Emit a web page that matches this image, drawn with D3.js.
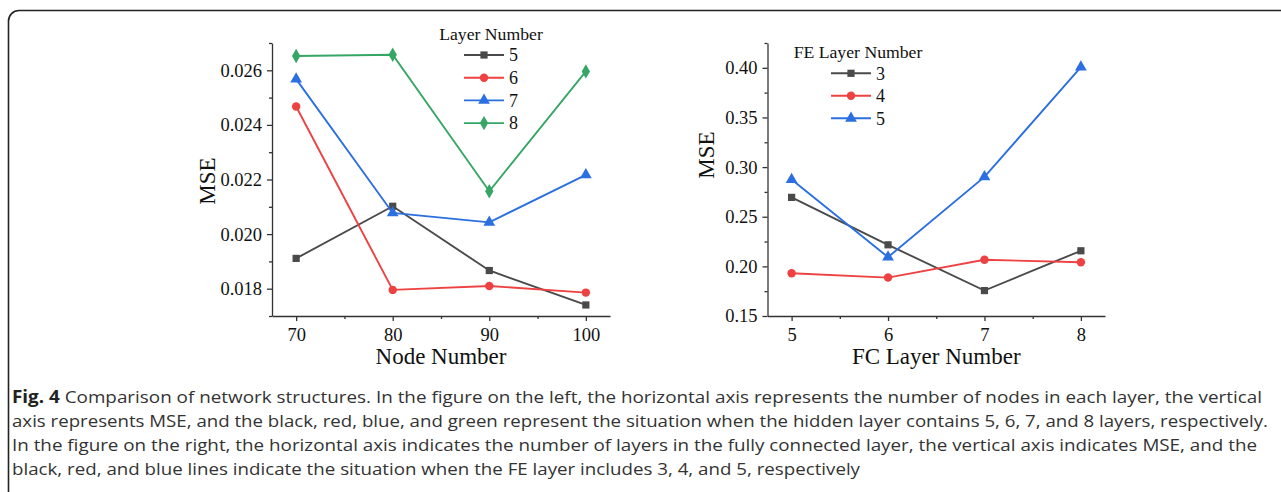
<!DOCTYPE html>
<html>
<head>
<meta charset="utf-8">
<script src="https://cdn.jsdelivr.net/npm/d3@7"></script>
<style>
  html, body { margin: 0; padding: 0; background: #fff; }
  svg text { font-family: "Liberation Serif", "Times New Roman", serif; }
  svg text.cap { font-family: "Open Sans", "Noto Sans", sans-serif; fill: #333; }
</style>
</head>
<body>
<svg id="fig" width="1281" height="492"></svg>
<script>
// left chart: MSE vs node number
const nodeNumbers = [70, 80, 90, 100]
const layerNames = ['5', '6', '7', '8']
const layer5 = [0.01911, 0.02102, 0.018666, 0.017404]
const layer6 = [0.024673, 0.017956, 0.01810, 0.017857]
const layer7 = [0.025676, 0.020775, 0.02043, 0.022172]
const layer8 = [0.026522, 0.02657, 0.02157, 0.02596]
const leftYTicks = [0.018, 0.020, 0.022, 0.024, 0.026]

// right chart: MSE vs FC layer number
const fcLayers = [5, 6, 7, 8]
const feNames = ['3', '4', '5']
const fe3 = [0.2695, 0.2217, 0.1756, 0.2157]
const fe4 = [0.1931, 0.1887, 0.2066, 0.2042]
const fe5 = [0.2874, 0.2093, 0.2901, 0.4008]
const rightYTicks = [0.15, 0.20, 0.25, 0.30, 0.35, 0.40]

const captionLines = [
    ['Fig. 4', ' Comparison of network structures. In the figure on the left, the horizontal axis represents the number of nodes in each layer, the vertical'],
    ['', 'axis represents MSE, and the black, red, blue, and green represent the situation when the hidden layer contains 5, 6, 7, and 8 layers, respectively.'],
    ['', 'In the figure on the right, the horizontal axis indicates the number of layers in the fully connected layer, the vertical axis indicates MSE, and the'],
    ['', 'black, red, and blue lines indicate the situation when the FE layer includes 3, 4, and 5, respectively']
]

const colors = ['#4a4a4a', '#ee4242', '#2b6fe0', '#35a665']
const symbols = [d3.symbolSquare, d3.symbolCircle, d3.symbolTriangle, d3.symbolDiamond]
const symSizes = [52, 56, 60, 60]

const svg = d3.select('#fig')

// outer frame
svg.append('path')
    .attr('d', 'M8.5,492 V21 A10.5,10.5 0 0 1 19,10.5 H1281')
    .attr('fill', 'none')
    .attr('stroke', '#222')
    .attr('stroke-width', 1.6)

const drawChart = opt => {
    const g = svg.append('g')
    const x = d3.scaleLinear().domain(opt.xDomain).range([opt.left, opt.right])
    const y = d3.scaleLinear().domain(opt.yDomain).range([opt.bottom, opt.top])

    const xAxis = d3.axisBottom(x).tickValues(opt.xTicks).tickSize(5).tickSizeOuter(0).tickPadding(7)
        .tickFormat(d3.format('d'))
    const yAxis = d3.axisLeft(y).tickValues(opt.yTicks).tickSize(5).tickSizeOuter(0).tickPadding(5)
        .tickFormat(opt.yFormat)

    g.append('g').attr('transform', `translate(0,${opt.bottom})`).call(xAxis)
    g.append('g').attr('transform', `translate(${opt.left},0)`).call(yAxis)

    // minor ticks
    g.append('g').attr('transform', `translate(0,${opt.bottom})`)
        .call(d3.axisBottom(x).tickValues(opt.xMinor).tickSize(3).tickFormat('').tickSizeOuter(0))
        .select('.domain').remove()
    g.append('g').attr('transform', `translate(${opt.left},0)`)
        .call(d3.axisLeft(y).tickValues(opt.yMinor).tickSize(3).tickFormat('').tickSizeOuter(0))
        .select('.domain').remove()

    g.selectAll('.domain, .tick line').attr('stroke', '#333').attr('stroke-width', 1.3)
    g.selectAll('.tick text')
        .style('font-size', '18.5px')
        .style('font-family', '"Liberation Serif", serif')
        .attr('fill', '#111')

    // axis titles
    g.append('text')
        .attr('x', (opt.left + opt.right) / 2)
        .attr('y', opt.bottom + 48)
        .attr('text-anchor', 'middle')
        .style('font-size', '23px')
        .attr('fill', '#111')
        .text(opt.xTitle)
    g.append('text')
        .attr('transform', `translate(${opt.yTitleX},${opt.yTitleY}) rotate(-90)`)
        .attr('text-anchor', 'middle')
        .attr('dy', '0.35em')
        .style('font-size', '23px')
        .attr('fill', '#111')
        .text('MSE')

    const line = d3.line().x((d, i) => x(opt.xs[i])).y(d => y(d))

    opt.series.forEach((s, k) => {
        g.append('path')
            .datum(s)
            .attr('fill', 'none')
            .attr('stroke', colors[k])
            .attr('stroke-width', 1.9)
            .attr('d', line)
        g.selectAll(null)
            .data(s)
            .enter()
            .append('path')
            .attr('d', d3.symbol().type(symbols[k]).size(symSizes[k]))
            .attr('transform', (d, i) => `translate(${x(opt.xs[i])},${y(d)})`)
            .attr('fill', colors[k])
    })

    // legend
    const lg = g.append('g')
    lg.append('text')
        .attr('x', opt.legend.titleX)
        .attr('y', opt.legend.titleY)
        .attr('text-anchor', 'middle')
        .attr('dy', '0.35em')
        .style('font-size', '17.7px')
        .attr('fill', '#111')
        .text(opt.legend.title)
    opt.names.forEach((n, k) => {
        const yy = opt.legend.y0 + k * opt.legend.step
        lg.append('line')
            .attr('x1', opt.legend.x0).attr('x2', opt.legend.x0 + 40)
            .attr('y1', yy).attr('y2', yy)
            .attr('stroke', colors[k]).attr('stroke-width', 1.9)
        lg.append('path')
            .attr('d', d3.symbol().type(symbols[k]).size(symSizes[k]))
            .attr('transform', `translate(${opt.legend.x0 + 20},${yy})`)
            .attr('fill', colors[k])
        lg.append('text')
            .attr('x', opt.legend.x0 + 45)
            .attr('y', yy)
            .attr('dy', '0.35em')
            .style('font-size', '18px')
            .attr('fill', '#111')
            .text(n)
    })
}

drawChart({
    left: 272, right: 610, top: 43, bottom: 316,
    xDomain: [67.5, 102.5], yDomain: [0.017, 0.027],
    xTicks: nodeNumbers, xMinor: [75, 85, 95],
    yTicks: leftYTicks, yMinor: [0.017, 0.019, 0.021, 0.023, 0.025, 0.027],
    yFormat: d3.format('.3f'),
    xs: nodeNumbers,
    series: [layer5, layer6, layer7, layer8],
    names: layerNames,
    xTitle: 'Node Number', yTitleX: 207, yTitleY: 181,
    legend: { title: 'Layer Number', titleX: 491, titleY: 34, x0: 464, y0: 55, step: 22.7 }
})

drawChart({
    left: 767.5, right: 1105, top: 43, bottom: 316,
    xDomain: [4.75, 8.25], yDomain: [0.15, 0.425],
    xTicks: fcLayers, xMinor: [5.5, 6.5, 7.5],
    yTicks: rightYTicks, yMinor: [0.175, 0.225, 0.275, 0.325, 0.375, 0.425],
    yFormat: d3.format('.2f'),
    xs: fcLayers,
    series: [fe3, fe4, fe5],
    names: feNames,
    xTitle: 'FC Layer Number', yTitleX: 706, yTitleY: 155,
    legend: { title: 'FE Layer Number', titleX: 858, titleY: 51.5, x0: 831, y0: 73.3, step: 22.5 }
})

// caption
const capWidths = [1250, 1256, 1245, 848]
captionLines.forEach((l, i) => {
    const t = svg.append('text')
        .attr('class', 'cap')
        .attr('x', 12)
        .attr('y', 403 + i * 24)
        .style('font-size', '17px')
        .attr('textLength', capWidths[i])
        .attr('lengthAdjust', 'spacingAndGlyphs')
    if (l[0]) t.append('tspan').attr('font-weight', 'bold').attr('fill', '#222').text(l[0])
    t.append('tspan').text(l[1])
})
</script>
</body>
</html>
